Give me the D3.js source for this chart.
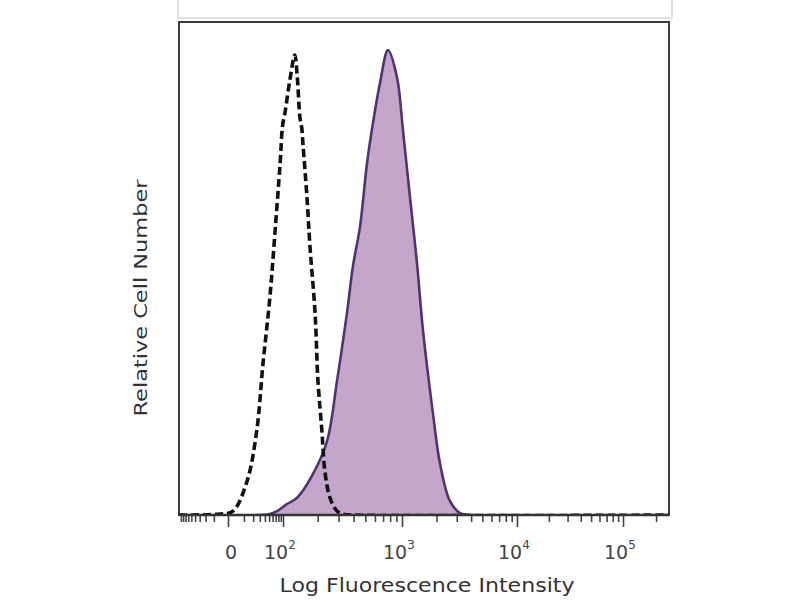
<!DOCTYPE html>
<html>
<head>
<meta charset="utf-8">
<script src="https://cdn.jsdelivr.net/npm/d3@7"></script>
<style>
  html, body { margin: 0; padding: 0; background: #fff; }
  svg { display: block; }
</style>
</head>
<body>
<svg id="chart" width="800" height="600"></svg>
<script>
// ---- data (fluorescence intensity vs relative cell number) ----
const controlX = [-100, -5, 2.4, 13, 25, 36, 52, 68, 87, 98, 104, 115, 127, 133, 141, 146, 150, 162, 172, 190, 201, 217, 230, 254, 291, 326, 400, 262144];
const controlY = [0, 0.2, 0.8, 6.9, 17.1, 30.7, 44.1, 57.7, 71.3, 79.0, 81.5, 88.2, 93.3, 89.4, 80.5, 78.5, 74.8, 64.4, 54.3, 40.9, 27.2, 17.1, 8.9, 3.5, 0.8, 0.2, 0, 0];

const stainedX = [-100, 52, 75, 108, 133, 182, 240, 291, 352, 395, 452, 516, 578, 660, 768, 910, 1020, 1175, 1353, 1526, 1865, 2147, 2622, 3203, 4000, 262144];
const stainedY = [0, 0.2, 0.8, 2.2, 3.5, 8.3, 15.0, 27.2, 40.9, 50.5, 58.5, 71.3, 79.5, 87.6, 94.3, 88.8, 78.0, 64.4, 51.0, 37.4, 20.5, 10.4, 2.8, 0.4, 0, 0];

const majorTicks = [0, 100, 1000, 10000, 100000];
const majorLabels = [["0", ""], ["10", "2"], ["10", "3"], ["10", "4"], ["10", "5"]];
const minorTicks = [-90, -80, -70, -60, -50, -40, -30, -20, -10,
  10, 20, 30, 40, 50, 60, 70, 80, 90,
  200, 300, 400, 500, 600, 700, 800, 900,
  2000, 3000, 4000, 5000, 6000, 7000, 8000, 9000,
  20000, 30000, 40000, 50000, 60000, 70000, 80000, 90000, 200000];

const xLabel = "Log Fluorescence Intensity";
const yLabel = "Relative Cell Number";

// ---- layout ----
const L = 179, R = 669, T = 22, B = 515;
const svg = d3.select("#chart");

const x = d3.scaleSymlog().constant(10)
  .domain([-100, 0, 100, 1000, 10000, 100000, 262144])
  .range([L, 228, 283, 402, 517, 623, R]);
const y = d3.scaleLinear().domain([0, 100]).range([B, T]);

// faint upper frame (artifact of source panel)
svg.append("path")
  .attr("d", `M${L - 1},0 V18 H${R + 3} V0`)
  .attr("fill", "none").attr("stroke", "#e0e0e0").attr("stroke-width", 2);

svg.append("clipPath").attr("id", "clip")
  .append("rect").attr("x", L).attr("y", T).attr("width", R - L).attr("height", B - T);

const g = svg.append("g").attr("clip-path", "url(#clip)");

const stained = stainedX.map((v, i) => [v, stainedY[i]]);
const control = controlX.map((v, i) => [v, controlY[i]]);

const area = d3.area()
  .x(d => x(d[0])).y0(y(0)).y1(d => y(d[1]))
  .curve(d3.curveCatmullRom.alpha(0.5));
const line = d3.line()
  .x(d => x(d[0])).y(d => y(d[1]))
  .curve(d3.curveCatmullRom.alpha(0.5));

g.append("path").datum(stained).attr("d", area)
  .attr("fill", "#c4a6ca");
g.append("path").datum(stained).attr("d", line)
  .attr("fill", "none").attr("stroke", "#4f3570").attr("stroke-width", 2.6)
  .attr("stroke-linejoin", "round");
g.append("path").datum(control).attr("d", line)
  .attr("fill", "none").attr("stroke", "#111").attr("stroke-width", 3.6)
  .attr("stroke-dasharray", "8,4");

// frame
svg.append("rect").attr("x", L).attr("y", T).attr("width", R - L).attr("height", B - T)
  .attr("fill", "none").attr("stroke", "#3a3a3a").attr("stroke-width", 2);

// axis ticks
const axMinor = svg.append("g").attr("transform", `translate(0,${B})`)
  .call(d3.axisBottom(x).tickValues(minorTicks).tickFormat("").tickSize(7).tickSizeOuter(0));
const axMajor = svg.append("g").attr("transform", `translate(0,${B})`)
  .call(d3.axisBottom(x).tickValues(majorTicks).tickFormat("").tickSize(12).tickSizeOuter(0));
[axMinor, axMajor].forEach(a => {
  a.select(".domain").remove();
  a.selectAll(".tick line").attr("stroke", "#444").attr("stroke-width", 1.6);
});
svg.append("line").attr("x1", L).attr("x2", R).attr("y1", B).attr("y2", B)
  .attr("stroke", "#333").attr("stroke-width", 2.5);

// tick labels (base + superscript exponent in one text element)
const font = "'DejaVu Sans', sans-serif";
majorTicks.forEach((v, i) => {
  const px = x(v);
  const [base, exp] = majorLabels[i];
  const t = svg.append("text").attr("y", 559)
    .attr("font-family", font).attr("font-size", 19).attr("fill", "#444");
  if (!exp) {
    t.attr("x", px + 3).attr("text-anchor", "middle").text(base);
  } else {
    t.attr("x", px - 19).attr("text-anchor", "start");
    t.append("tspan").text(base);
    t.append("tspan").attr("dy", -10).attr("font-size", 12).text(exp);
  }
});

// axis titles
svg.append("text").attr("x", 427).attr("y", 592).attr("text-anchor", "middle")
  .attr("font-family", "'DejaVu Sans', sans-serif").attr("font-size", 19).attr("fill", "#333")
  .attr("textLength", 295).attr("lengthAdjust", "spacingAndGlyphs").text(xLabel);
svg.append("text").attr("transform", "translate(147,298) rotate(-90)").attr("text-anchor", "middle")
  .attr("font-family", "'DejaVu Sans', sans-serif").attr("font-size", 18).attr("fill", "#333")
  .attr("textLength", 237).attr("lengthAdjust", "spacingAndGlyphs").text(yLabel);
</script>
</body>
</html>
